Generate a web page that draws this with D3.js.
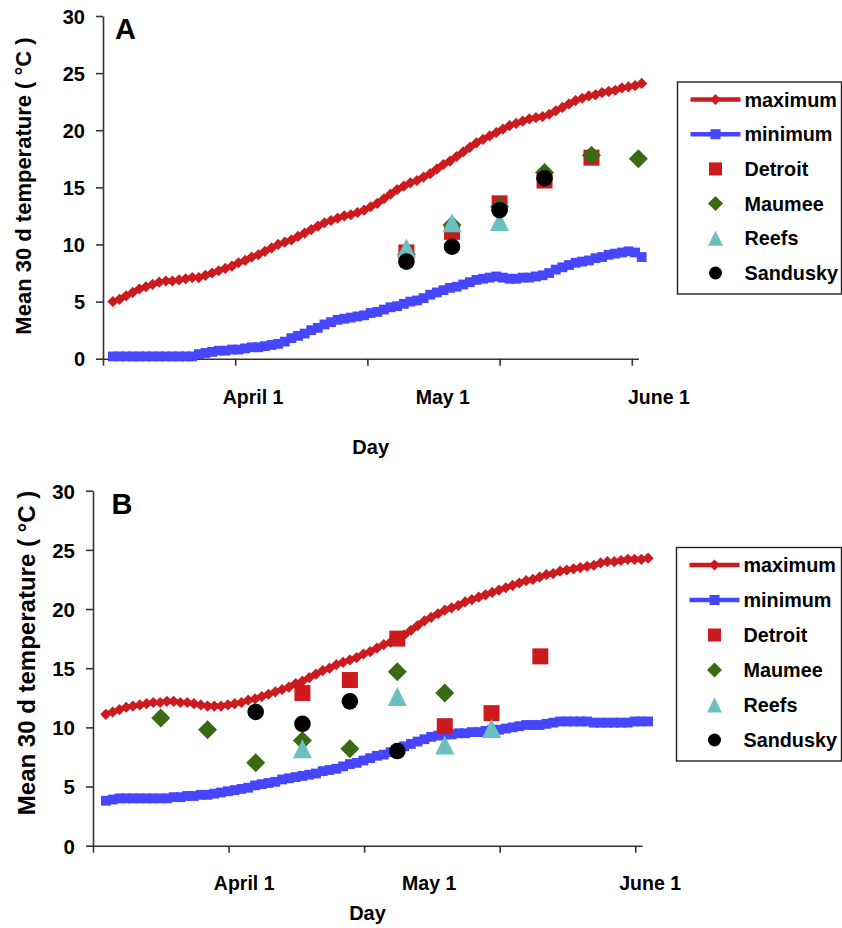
<!DOCTYPE html>
<html>
<head>
<meta charset="utf-8">
<script src="https://cdn.jsdelivr.net/npm/d3@7"></script>
<style>
  body { margin: 0; background: #fff; }
  svg { display: block; }
  text { font-family: "Liberation Sans", Arial, sans-serif; font-weight: bold; fill: #000; }
</style>
</head>
<body>
<div id="chart"></div>
<script>
// ---- data ----
// daily 30 d mean temperature, one value per day
var maxA = [5.0,5.2,5.5,5.8,6.1,6.3,6.5,6.7,6.8,6.8,
  6.9,7.0,7.1,7.1,7.3,7.5,7.7,7.9,8.1,8.4,
  8.6,8.9,9.1,9.4,9.7,10.0,10.2,10.4,10.7,11.0,
  11.3,11.6,11.9,12.1,12.3,12.5,12.6,12.8,13.0,13.3,
  13.6,14.0,14.4,14.8,15.1,15.4,15.6,15.9,16.2,16.6,
  17.0,17.3,17.7,18.1,18.5,18.9,19.2,19.5,19.8,20.1,
  20.4,20.6,20.8,21.0,21.1,21.2,21.4,21.7,22.0,22.3,
  22.6,22.8,23.0,23.1,23.3,23.4,23.5,23.7,23.8,23.9,
  24.1];
var minA = [0.2,0.2,0.2,0.2,0.2,0.2,0.2,0.2,0.2,0.2,
  0.2,0.2,0.2,0.4,0.5,0.6,0.7,0.7,0.8,0.8,
  0.9,1.0,1.0,1.1,1.2,1.3,1.5,1.8,2.0,2.2,
  2.5,2.7,3.0,3.2,3.4,3.5,3.6,3.7,3.8,4.0,
  4.1,4.3,4.5,4.6,4.8,5.0,5.1,5.3,5.6,5.8,
  6.0,6.2,6.3,6.5,6.7,6.9,7.0,7.1,7.2,7.1,
  7.0,7.0,7.1,7.1,7.2,7.3,7.5,7.8,8.0,8.2,
  8.4,8.5,8.6,8.8,8.9,9.1,9.2,9.3,9.4,9.3,
  8.9];
var maxB = [11.1,11.3,11.5,11.7,11.8,11.9,12.0,12.1,12.1,12.2,
  12.2,12.1,12.1,12.0,11.9,11.8,11.8,11.8,11.9,12.0,
  12.1,12.3,12.4,12.6,12.8,13.0,13.2,13.4,13.7,13.9,
  14.2,14.5,14.8,15.0,15.3,15.5,15.7,15.9,16.2,16.4,
  16.7,17.0,17.2,17.5,17.8,18.2,18.6,19.0,19.3,19.6,
  19.9,20.1,20.3,20.6,20.8,21.0,21.2,21.4,21.6,21.8,
  22.0,22.2,22.4,22.5,22.7,22.9,23.0,23.2,23.3,23.4,
  23.5,23.6,23.7,23.9,24.0,24.0,24.1,24.2,24.2,24.2,
  24.3];
var minB = [3.8,3.9,4.0,4.0,4.0,4.0,4.0,4.0,4.0,4.0,
  4.1,4.1,4.2,4.2,4.3,4.3,4.4,4.5,4.6,4.7,
  4.8,4.9,5.1,5.2,5.3,5.4,5.6,5.7,5.8,5.9,
  6.0,6.1,6.3,6.4,6.5,6.7,6.9,7.0,7.2,7.4,
  7.6,7.7,7.9,8.1,8.4,8.6,8.8,9.0,9.2,9.3,
  9.4,9.4,9.5,9.5,9.6,9.6,9.7,9.8,9.8,9.9,
  10.0,10.1,10.2,10.2,10.2,10.3,10.4,10.5,10.5,10.5,
  10.5,10.5,10.4,10.4,10.4,10.4,10.4,10.4,10.5,10.5,
  10.5];

// site samples: [day, temperature]
var detroitA  = [[45.9, 9.3], [52.8, 11.1], [60.0, 13.6], [66.8, 15.6], [73.9, 17.6]];
var maumeeA   = [[45.9, 9.1], [52.8, 11.7], [60.0, 13.3], [66.8, 16.3], [73.9, 17.8], [81.0, 17.5]];
var reefsA    = [[45.9, 9.7], [52.8, 11.9], [60.0, 12.0]];
var sanduskyA = [[45.9, 8.5], [52.8, 9.8], [60.0, 13.0], [66.8, 15.8]];

var detroitB  = [[30.9, 12.9], [37.9, 14.0], [44.9, 17.5], [51.9, 10.1], [58.8, 11.2], [66.0, 16.0]];
var maumeeB   = [[10.0, 10.8], [16.9, 9.8], [24.0, 7.0], [30.9, 8.9], [37.9, 8.2], [44.9, 14.7], [51.9, 12.9]];
var reefsB    = [[30.9, 8.2], [44.9, 12.6], [51.9, 8.5], [58.8, 9.9]];
var sanduskyB = [[24.0, 11.3], [30.9, 10.3], [37.9, 12.2], [44.9, 8.0]];

var yTicks = [0, 5, 10, 15, 20, 25, 30];
var xTicks = [0, 20, 40, 60, 80];
var dayLabels = ['April 1', 'May 1', 'June 1'];
var dayLabelPosA = [22.7, 51.4, 84.1];
var dayLabelPosB = [22.3, 49.6, 82.2];
var legendNames = ['maximum', 'minimum', 'Detroit', 'Maumee', 'Reefs', 'Sandusky'];

// ---- styles ----
var RED = '#cc1a1f', BLUE = '#4646ff', GREEN = '#386b12', TEAL = '#6cbfbf', BLACK = '#000';

function diamond(r) { return 'M0,' + (-r) + 'L' + r + ',0L0,' + r + 'L' + (-r) + ',0Z'; }
function square(r) { return 'M' + (-r) + ',' + (-r) + 'h' + (2 * r) + 'v' + (2 * r) + 'h' + (-2 * r) + 'Z'; }
function triangle(r) { return 'M0,' + (-r) + 'L' + r + ',' + r + 'L' + (-r) + ',' + r + 'Z'; }
function circle(r) { return 'M' + (-r) + ',0a' + r + ',' + r + ' 0 1,0 ' + (2 * r) + ',0a' + r + ',' + r + ' 0 1,0 ' + (-2 * r) + ',0Z'; }

var svg = d3.select('#chart').append('svg')
  .attr('width', 842).attr('height', 928);

function drawPanel(p) {
  var x = d3.scaleLinear().domain([0, 81]).range([p.left, p.right]);
  var y = d3.scaleLinear().domain([0, 30]).range([p.bottom, p.top]);
  var g = svg.append('g');

  var yAxis = g.append('g')
    .attr('transform', 'translate(' + p.left + ',0)')
    .style('color', '#333')
    .call(d3.axisLeft(y).tickValues(yTicks).tickSize(7).tickPadding(11).tickSizeOuter(0));
  yAxis.selectAll('text').style('font-size', p.tickFont + 'px').attr('dy', '0.36em');
  yAxis.selectAll('path, line').attr('stroke-width', 1.6);

  var xAxis = g.append('g')
    .attr('transform', 'translate(0,' + p.bottom + ')')
    .style('color', '#333')
    .call(d3.axisBottom(x).tickValues(xTicks).tickSize(7).tickFormat('').tickSizeOuter(0));
  xAxis.selectAll('path, line').attr('stroke-width', 1.6);

  g.selectAll('.daylab').data(dayLabels).enter().append('text')
    .attr('x', function(d, i) { return x(p.labelPos[i]); })
    .attr('y', p.labelY)
    .attr('text-anchor', 'middle')
    .style('font-size', '19.5px')
    .text(function(d) { return d; });

  g.append('text')
    .attr('x', x(40.5)).attr('y', p.dayY)
    .attr('text-anchor', 'middle')
    .style('font-size', '20px')
    .text('Day');

  g.append('text')
    .attr('transform', 'translate(' + p.titleX + ',' + p.titleY + ') rotate(-90)')
    .attr('text-anchor', 'middle')
    .style('font-size', p.titleFont + 'px')
    .text('Mean 30 d temperature ( °C )');

  g.append('text')
    .attr('x', p.letterX).attr('y', p.letterY)
    .style('font-size', '29px')
    .text(p.letter);

  var line = d3.line()
    .x(function(d, i) { return x(p.start + i); })
    .y(function(d) { return y(d); });

  g.append('path').datum(p.max).attr('d', line)
    .attr('fill', 'none').attr('stroke', RED).attr('stroke-width', 5);
  g.selectAll('.mx').data(p.max).enter().append('path')
    .attr('transform', function(d, i) { return 'translate(' + x(p.start + i) + ',' + y(d) + ')'; })
    .attr('d', diamond(5.6)).attr('fill', RED);

  g.append('path').datum(p.min).attr('d', line)
    .attr('fill', 'none').attr('stroke', BLUE).attr('stroke-width', 5);
  g.selectAll('.mn').data(p.min).enter().append('path')
    .attr('transform', function(d, i) { return 'translate(' + x(p.start + i) + ',' + y(d) + ')'; })
    .attr('d', square(4.9)).attr('fill', BLUE);

  var sites = [
    { data: p.detroit, color: RED, shape: square(8) },
    { data: p.maumee, color: GREEN, shape: diamond(9.5) },
    { data: p.reefs, color: TEAL, shape: triangle(9.5) },
    { data: p.sandusky, color: BLACK, shape: circle(8.3) }
  ];
  sites.forEach(function(s) {
    g.selectAll(null).data(s.data).enter().append('path')
      .attr('transform', function(d) { return 'translate(' + x(d[0]) + ',' + y(d[1]) + ')'; })
      .attr('d', s.shape).attr('fill', s.color);
  });

  // legend
  var lg = g.append('g');
  lg.append('rect')
    .attr('x', p.legX).attr('y', p.legY).attr('width', p.legW).attr('height', p.legH)
    .attr('fill', '#fff').attr('stroke', '#222').attr('stroke-width', 1.4);
  var ly = d3.scalePoint().domain(legendNames).range([p.legY + 17.5, p.legY + p.legH - 21]);
  var symX = p.legX + 38;
  var legendMarks = [
    { color: RED, shape: diamond(5.5), line: true },
    { color: BLUE, shape: square(5), line: true },
    { color: RED, shape: square(6.5) },
    { color: GREEN, shape: diamond(7.5) },
    { color: TEAL, shape: triangle(7.5) },
    { color: BLACK, shape: circle(6.5) }
  ];
  legendNames.forEach(function(name, i) {
    var m = legendMarks[i];
    var yy = ly(name);
    if (m.line) {
      lg.append('line')
        .attr('x1', symX - 25).attr('x2', symX + 25).attr('y1', yy).attr('y2', yy)
        .attr('stroke', m.color).attr('stroke-width', 4.5);
    }
    lg.append('path')
      .attr('transform', 'translate(' + symX + ',' + yy + ')')
      .attr('d', m.shape).attr('fill', m.color);
    lg.append('text')
      .attr('x', p.legX + 67).attr('y', yy).attr('dy', '0.36em')
      .style('font-size', '19.8px')
      .text(name);
  });
}

drawPanel({
  letter: 'A', letterX: 115, letterY: 39,
  left: 103, right: 638.4, top: 16, bottom: 358.7,
  start: 1.5, max: maxA, min: minA,
  detroit: detroitA, maumee: maumeeA, reefs: reefsA, sandusky: sanduskyA,
  tickFont: 20, titleFont: 22, titleX: 31, titleY: 186,
  labelPos: dayLabelPosA, labelY: 404, dayY: 454,
  legX: 677.5, legY: 82, legW: 164, legH: 212
});

drawPanel({
  letter: 'B', letterX: 111.5, letterY: 514,
  left: 93, right: 642, top: 490.7, bottom: 845.7,
  start: 1.9, max: maxB, min: minB,
  detroit: detroitB, maumee: maumeeB, reefs: reefsB, sandusky: sanduskyB,
  tickFont: 20.5, titleFont: 24, titleX: 35, titleY: 653,
  labelPos: dayLabelPosB, labelY: 890, dayY: 920,
  legX: 676.5, legY: 547.5, legW: 165, legH: 213.5
});
</script>
</body>
</html>
